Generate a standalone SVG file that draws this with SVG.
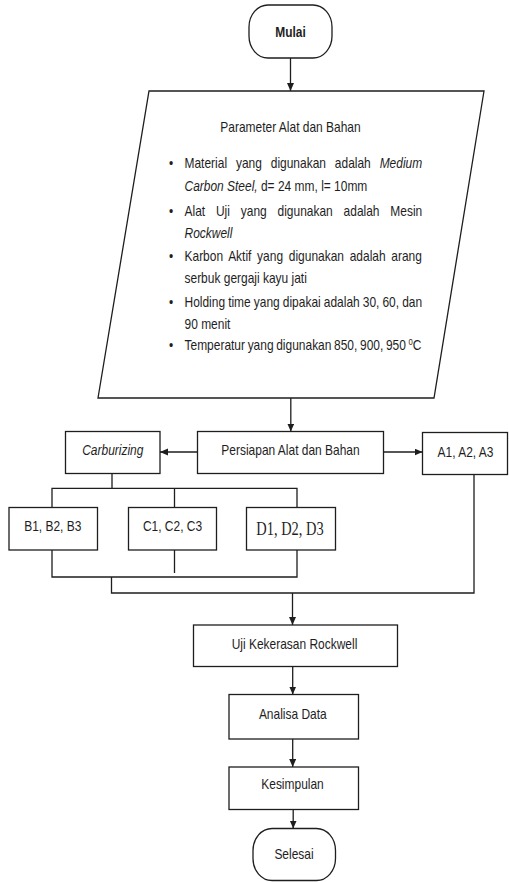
<svg xmlns="http://www.w3.org/2000/svg" width="509" height="882" viewBox="0 0 509 882">
<style>
.bg{fill:#ffffff}
.shape{fill:#ffffff;stroke:#1e1e1e;stroke-width:1.3}
.line{fill:none;stroke:#1e1e1e;stroke-width:1.3}
.t{font-family:"Liberation Sans",Arial,sans-serif;font-size:14px;fill:#1e1e1e}
.c{text-anchor:middle}
.b{font-weight:bold}
.i{font-style:italic}
.tm{font-family:"Liberation Serif","Times New Roman",serif;font-size:19px;fill:#1e1e1e;text-anchor:middle}
</style>
<defs>
<marker id="arr" markerUnits="userSpaceOnUse" markerWidth="9" markerHeight="8" refX="8" refY="3.5" orient="auto">
<path d="M0,0 L8,3.5 L0,7 z" fill="#1e1e1e"/>
</marker>
</defs>
<rect class="bg" x="0" y="0" width="509" height="882"/>

<g id="connectors">
<line class="line" x1="290.5" y1="58" x2="290.5" y2="91" marker-end="url(#arr)"/>
<line class="line" x1="290.8" y1="398" x2="290.8" y2="431.5" marker-end="url(#arr)"/>
<line class="line" x1="197.5" y1="452" x2="160" y2="452" marker-end="url(#arr)"/>
<line class="line" x1="383.5" y1="452" x2="422.5" y2="452" marker-end="url(#arr)"/>
<path class="line" d="M112,473.5 V488.3 M52,507.5 V488.3 H297 V507.5 M174.5,488.3 V507.5"/>
<path class="line" d="M52,550 V577 H297 V550 M174.5,550 V573 M111.5,577 V593 H474 V474.5"/>
<line class="line" x1="292.5" y1="593" x2="292.5" y2="625" marker-end="url(#arr)"/>
<line class="line" x1="292.7" y1="666.5" x2="292.7" y2="694.5" marker-end="url(#arr)"/>
<line class="line" x1="292.7" y1="739" x2="292.7" y2="767" marker-end="url(#arr)"/>
<line class="line" x1="293.2" y1="809.5" x2="293.2" y2="828.5" marker-end="url(#arr)"/>
</g>

<g id="mulai">
<rect class="shape" x="249" y="5" width="83" height="53" rx="19" ry="22"/>
<text class="t c b" transform="translate(290.5 37) scale(0.855 1)">Mulai</text>
</g>

<g id="parameter">
<polygon class="shape" points="149,91 484,91 434,398 98,398"/>
<text class="t c" transform="translate(290.5 131.5) scale(0.855 1)">Parameter Alat dan Bahan</text>
<text class="t c" transform="translate(171 168) scale(0.855 1)">•</text>
<text class="t" transform="translate(184.5 168) scale(0.855 1)" style="word-spacing:6.5px">Material yang digunakan adalah <tspan class="i">Medium</tspan></text>
<text class="t" transform="translate(184.5 191) scale(0.855 1)"><tspan class="i">Carbon Steel,</tspan> d= 24 mm, l= 10mm</text>
<text class="t c" transform="translate(171 215.5) scale(0.855 1)">•</text>
<text class="t" transform="translate(184.5 215.5) scale(0.855 1)" style="word-spacing:8.8px">Alat Uji yang digunakan adalah Mesin</text>
<text class="t i" transform="translate(184.5 237.5) scale(0.855 1)">Rockwell</text>
<text class="t c" transform="translate(171 261) scale(0.855 1)">•</text>
<text class="t" transform="translate(184.5 261) scale(0.855 1)" style="word-spacing:2.8px">Karbon Aktif yang digunakan adalah arang</text>
<text class="t" transform="translate(184.5 283) scale(0.855 1)">serbuk gergaji kayu jati</text>
<text class="t c" transform="translate(171 306.5) scale(0.855 1)">•</text>
<text class="t" transform="translate(184.5 306.5) scale(0.855 1)" style="word-spacing:-0.3px">Holding time yang dipakai adalah 30, 60, dan</text>
<text class="t" transform="translate(184.5 328.5) scale(0.855 1)">90 menit</text>
<text class="t c" transform="translate(171 350) scale(0.855 1)">•</text>
<text class="t" transform="translate(184.5 350) scale(0.855 1)" style="word-spacing:-0.8px">Temperatur yang digunakan 850, 900, 950 <tspan font-size="9" dy="-5">0</tspan><tspan dy="5">C</tspan></text>
</g>

<g id="persiapan">
<rect class="shape" x="197.5" y="431.5" width="186" height="42"/>
<text class="t c" transform="translate(290.5 455) scale(0.855 1)">Persiapan Alat dan Bahan</text>
</g>

<g id="carburizing">
<rect class="shape" x="65.5" y="431.5" width="94.5" height="42"/>
<text class="t c i" transform="translate(112.8 455) scale(0.855 1)">Carburizing</text>
</g>

<g id="a123">
<rect class="shape" x="422.5" y="432.5" width="85" height="42"/>
<text class="t c" transform="translate(465.5 456.5) scale(0.855 1)">A1, A2, A3</text>
</g>

<g id="b123">
<rect class="shape" x="9" y="507.5" width="88.5" height="42.5"/>
<text class="t c" transform="translate(52.8 530.7) scale(0.855 1)">B1, B2, B3</text>
</g>

<g id="c123">
<rect class="shape" x="128.5" y="507.5" width="88" height="42.5"/>
<text class="t c" transform="translate(172.5 530.7) scale(0.855 1)">C1, C2, C3</text>
</g>

<g id="d123">
<rect class="shape" x="246.5" y="507.5" width="89" height="42.5"/>
<text class="tm" transform="translate(290 535) scale(0.76 1)">D1, D2, D3</text>
</g>

<g id="uji">
<rect class="shape" x="193.5" y="625" width="204" height="41.5"/>
<text class="t c" transform="translate(294.5 648.5) scale(0.855 1)">Uji Kekerasan Rockwell</text>
</g>

<g id="analisa">
<rect class="shape" x="229" y="694.5" width="129.5" height="44.5"/>
<text class="t c" transform="translate(292.8 718.5) scale(0.855 1)">Analisa Data</text>
</g>

<g id="kesimpulan">
<rect class="shape" x="229" y="767" width="129.5" height="42.5"/>
<text class="t c" transform="translate(292.5 788.5) scale(0.855 1)">Kesimpulan</text>
</g>

<g id="selesai">
<rect class="shape" x="253" y="828.5" width="82.5" height="52" rx="19" ry="22"/>
<text class="t c" transform="translate(294 859) scale(0.855 1)">Selesai</text>
</g>
</svg>
